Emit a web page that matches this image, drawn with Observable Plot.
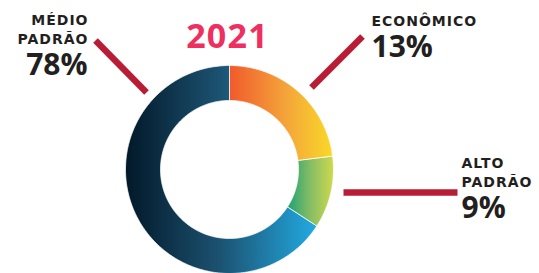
<!DOCTYPE html>
<html><head><meta charset="utf-8">
<script src="https://cdn.jsdelivr.net/npm/d3@7"></script>
<script src="https://cdn.jsdelivr.net/npm/@observablehq/plot@0.6"></script>
<style>body{margin:0;background:#fff;overflow:hidden}</style>
</head><body><div id="chart"></div>
<script>
// ---- data ----
const categories = ["ECONÔMICO", "ALTO PADRÃO", "MÉDIO PADRÃO"];
const nameLines = [["ECONÔMICO"], ["ALTO", "PADRÃO"], ["MÉDIO", "PADRÃO"]];
const percentLabels = ["13%", "9%", "78%"];
const arcShares = [23, 11.2, 65.8]; // share of the ring as drawn
const title = "2021";

// ---- layout / style ----
const W = 539, H = 273;
const cx = 229, cy = 169, R = 104, r = 69;
const gradIds = ["gEcon", "gAlto", "gMedio"];
const gradStops = [
  [["0", "#F15A2C"], ["0.55", "#F4A53A"], ["1", "#F9D928"]],
  [["0", "#1FA176"], ["0.5", "#86BD64"], ["1", "#CEDA4E"]],
  [["0", "#021829"], ["0.5", "#1C5372"], ["1", "#22AAE2"]]
];
const labelPos = [
  {x: 371, y: 25, anchor: "start"},
  {x: 461, y: 167, anchor: "start"},
  {x: 87, y: 24, anchor: "end"}
];
const leaders = [
  {x1: 362, y1: 36, x2: 311, y2: 87},
  {x1: 343, y1: 192, x2: 457, y2: 192},
  {x1: 95, y1: 40, x2: 146, y2: 92}
];
const lineStep = 19, pctGap = 31, nameSpacing = 1;

const pie = d3.pie().sort(null).value(d => d)(arcShares);
function ring(a0, a1) {
  const n = Math.max(16, Math.ceil((a1 - a0) / 0.01));
  const outer = d3.range(n + 1).map(i => { const a = a0 + (a1 - a0) * i / n; return [cx + R * Math.sin(a), cy - R * Math.cos(a)]; });
  const inner = d3.range(n + 1).map(i => { const a = a1 - (a1 - a0) * i / n; return [cx + r * Math.sin(a), cy - r * Math.cos(a)]; });
  return [...outer, ...inner, outer[0]];
}
const features = pie.map((p, i) => ({
  type: "Feature",
  properties: {name: categories[i], fill: `url(#${gradIds[i]})`},
  geometry: {type: "Polygon", coordinates: [ring(p.startAngle, p.endAngle)]}
}));

const nameRows = [];
const pctRows = [];
categories.forEach((c, i) => {
  const L = labelPos[i];
  const shift = L.anchor === "end" ? nameSpacing : 0; // compensate trailing letter-spacing
  nameLines[i].forEach((t, j) => nameRows.push({x: L.x + shift, y: L.y + j * lineStep, text: t, anchor: L.anchor}));
  pctRows.push({x: L.x, y: L.y + (nameLines[i].length - 1) * lineStep + pctGap, text: percentLabels[i], anchor: L.anchor});
});

function defsMark() {
  const defs = d3.create("svg:defs");
  gradIds.forEach((id, i) => {
    const g = defs.append("linearGradient").attr("id", id).attr("x1", 0).attr("x2", 1).attr("y1", 0).attr("y2", 0);
    gradStops[i].forEach(([o, c]) => g.append("stop").attr("offset", o).attr("stop-color", c));
  });
  const g = d3.create("svg:g"); g.node().appendChild(defs.node());
  return g.node();
}

const nameFont = "'DejaVu Sans', sans-serif";
const chart = Plot.plot({
  width: W, height: H, margin: 0,
  projection: {type: "identity"},
  color: {type: "identity"},
  style: {fontFamily: "'Open Sans', sans-serif", background: "#fff"},
  marks: [
    defsMark,
    Plot.geo(features, {fill: d => d.properties.fill, stroke: "#fff", strokeWidth: 0.8}),
    Plot.link(leaders, {x1: "x1", y1: "y1", x2: "x2", y2: "y2", stroke: "#B91D36", strokeWidth: 6.5, strokeLinecap: "butt"}),
    Plot.text([title], {x: () => 227, y: () => 47, text: d => d, fill: "#EE2F5F", fontSize: 34, fontWeight: 700, lineAnchor: "bottom", textAnchor: "middle", ariaDescription: "title"}),
    Plot.text(nameRows.filter(d => d.anchor === "start"), {x: "x", y: "y", text: "text", textAnchor: "start", lineAnchor: "bottom", fontSize: 14, fontWeight: 700, fontFamily: nameFont, fill: "#231F20", ariaDescription: "names"}),
    Plot.text(nameRows.filter(d => d.anchor === "end"), {x: "x", y: "y", text: "text", textAnchor: "end", lineAnchor: "bottom", fontSize: 14, fontWeight: 700, fontFamily: nameFont, fill: "#231F20", ariaDescription: "names"}),
    Plot.text(pctRows.filter(d => d.anchor === "start"), {x: "x", y: "y", text: "text", textAnchor: "start", lineAnchor: "bottom", fontSize: 30, fontWeight: 700, fill: "#231F20"}),
    Plot.text(pctRows.filter(d => d.anchor === "end"), {x: "x", y: "y", text: "text", textAnchor: "end", lineAnchor: "bottom", fontSize: 30, fontWeight: 700, fill: "#231F20"})
  ]
});
d3.select(chart).selectAll("g[aria-description=names] text").style("letter-spacing", nameSpacing + "px");
d3.select(chart).selectAll("g[aria-description=title] text").style("letter-spacing", "1.2px");
document.getElementById("chart").appendChild(chart);
</script>
</body></html>
